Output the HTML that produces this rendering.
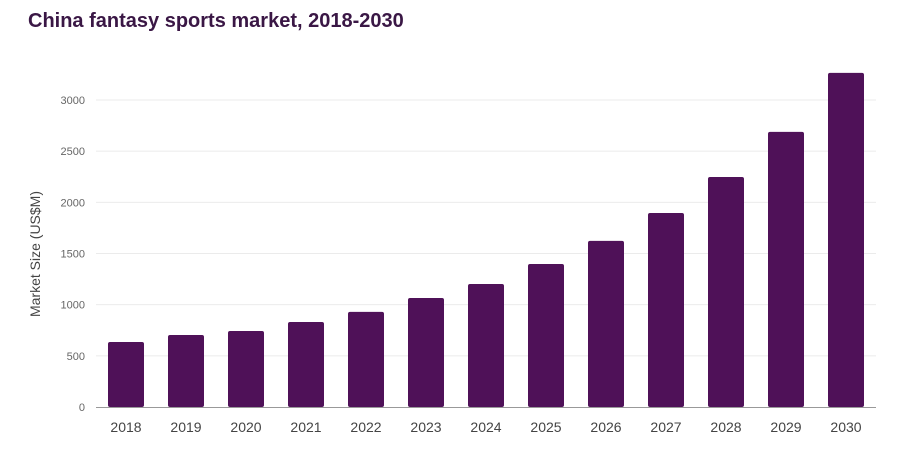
<!DOCTYPE html>
<html><head><meta charset="utf-8"><style>
body{margin:0;background:#fff;width:911px;height:450px;overflow:hidden;font-family:"Liberation Sans",sans-serif}
</style></head><body>
<svg width="911" height="450">
<text x="28" y="27" font-size="20" font-weight="bold" fill="#3a1745">China fantasy sports market, 2018-2030</text>
<g id="grid"></g><g id="bars"></g><g id="xl"></g>
<text transform="translate(40,254) rotate(-90)" text-anchor="middle" font-size="14" fill="#444">Market Size (US$M)</text>
</svg>
<script>
const categories=["2018","2019","2020","2021","2022","2023","2024","2025","2026","2027","2028","2029","2030"];
const values=[635,704,743,831,929,1065,1202,1398,1623,1896,2248,2688,3265];
const yTicks=[0,500,1000,1500,2000,2500,3000];
const NS="http://www.w3.org/2000/svg";
const x0=96,band=60,bw=36,yBase=407,yTop=100,yMax=3000;
const y=v=>yBase-(v/yMax)*(yBase-yTop);
const xc=i=>x0+band*i+band/2;
function mk(t,a,p){const e=document.createElementNS(NS,t);for(const k in a)e.setAttribute(k,a[k]);document.getElementById(p).appendChild(e);return e;}
yTicks.forEach(t=>{
 if(t>0){const l=mk('line',{x1:x0,x2:876,y1:y(t),y2:y(t),stroke:'#ebebeb'},'grid');
 
 }
 const tx=mk('text',{x:85,y:y(t)+4,'text-anchor':'end','font-size':11,fill:'#666'},'grid');tx.textContent=t;
 
 
});
values.forEach((v,i)=>{
 const r=mk('rect',{x:xc(i)-bw/2,y:y(v),width:bw,height:yBase-y(v),rx:2,fill:'#4f1158'},'bars');
 
 
 const t=mk('text',{x:xc(i),y:432,'text-anchor':'middle','font-size':14,fill:'#444'},'xl');t.textContent=categories[i];
 
 
});
const ax=mk('line',{x1:x0,x2:876,y1:yBase+0.5,y2:yBase+0.5,stroke:'#999'},'xl');


</script>
</body></html>
